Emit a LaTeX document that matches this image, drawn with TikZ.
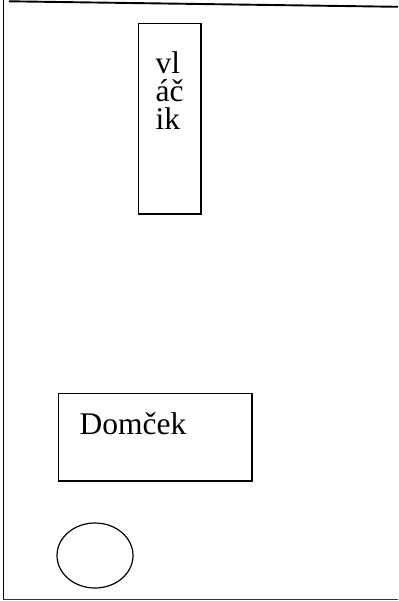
\documentclass[tikz,border=0pt]{standalone}
\usepackage{fontspec}
\setmainfont{Liberation Serif}

\begin{document}
\begin{tikzpicture}[x=1pt,y=-1pt,
    box/.style={draw,line width=1.2pt},
    label/.style={font=\fontsize{31.5}{28.3}\selectfont,inner sep=0pt,anchor=base west,align=left}]
    \useasboundingbox (0,0) rectangle (398,601);
    % frame
    \draw[line width=1.4pt] (3.2,0) -- (3.2,599.2);
    \draw[line width=1.2pt,black!80] (3.2,599.2) -- (398,599.2);
    \draw[line width=1.9pt] (9,1.3) -- (398,6.8);
    % train (base of the last line)
    \draw[box] (138.5,23.5) rectangle (201,214);
    \node[label] (vlacik) at (155.5,130) {vl\\áč\\ik};
    % house
    \draw[box] (58.5,393.5) rectangle (252,481);
    \node[label] (domcek) at (79.5,434) {Domček};
    % ball
    \draw[box] (95,555.5) ellipse (38 and 32.5);
\end{tikzpicture}
\end{document}
